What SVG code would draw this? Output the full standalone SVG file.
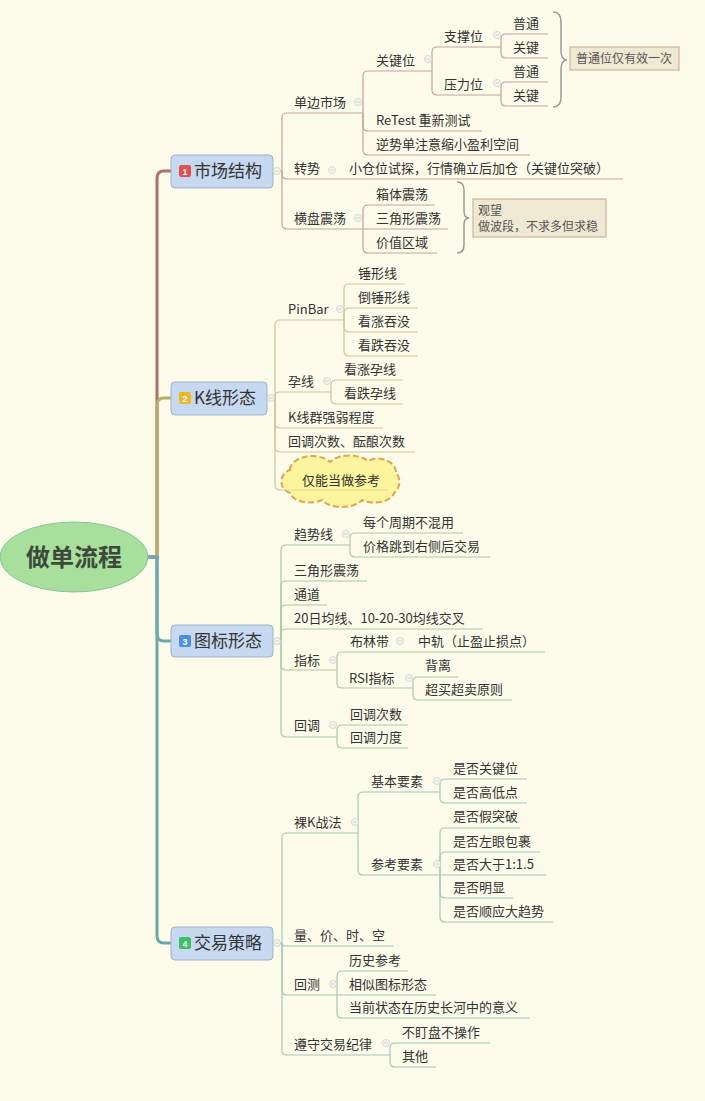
<svg xmlns="http://www.w3.org/2000/svg" width="705" height="1101" viewBox="0 0 705 1101">
<style>
.t{font-family:"Noto Sans CJK SC","Noto Sans",sans-serif;font-size:13px;fill:#333}
.s{font-family:"Noto Sans CJK SC","Noto Sans",sans-serif;font-size:12px;fill:#555}
.m{font-family:"Noto Sans CJK SC","Noto Sans",sans-serif;font-size:17px;fill:#333}
.c1{stroke:#c8a09b;fill:none;stroke-width:1.2}
.c2{stroke:#cbc79c;fill:none;stroke-width:1.2}
.c3{stroke:#abcaa2;fill:none;stroke-width:1.2}
.c4{stroke:#a2c8b8;fill:none;stroke-width:1.2}
.box{fill:#c7d9f0;stroke:#9fb1c9;stroke-width:1}
.bd{font-family:"Liberation Sans",sans-serif;font-size:9px;font-weight:bold;fill:#fff;text-anchor:middle}
.sum{fill:#efe9d3;stroke:#caa58c;stroke-width:1}
.brace{fill:none;stroke:#9a9a9a;stroke-width:1.5}
.col circle{fill:#f6f6ee;stroke:#cfcfcf;stroke-width:0.8}
.col path{stroke:#c8c8c8;stroke-width:0.8}
</style>
<rect width="705" height="1101" fill="#fdfcea"/>
<g id="trunk" fill="none" stroke-width="3">
<path d="M148,557H157V178Q157,171 164,171H171" stroke="#b46b6b"/>
<path d="M148,557H157V405Q157,398 164,398H171" stroke="#b6ae66"/>
<path d="M148,557H157V936Q157,943 164,943H171" stroke="#6aa8a6"/>
<path d="M148,557H157V634Q157,641 164,641H171" stroke="#6aa9ab"/>
</g>
<g id="connectors">
<g class="c1">
<path d="M273,171H282"/>
<path d="M282,171V118Q282,113 287,113H363"/>
<path d="M282,171V174Q282,179 287,179H623"/>
<path d="M282,171V224Q282,229 287,229H363"/>
<path d="M363,113V76Q363,71 368,71H432"/>
<path d="M363,113V126Q363,131 368,131H482"/>
<path d="M363,113V150Q363,155 368,155H530"/>
<path d="M432,71V52Q432,47 437,47H501"/>
<path d="M432,71V90Q432,95 437,95H501"/>
<path d="M501,47V39Q501,34 506,34H548"/>
<path d="M501,47V53Q501,58 506,58H548"/>
<path d="M501,95V87Q501,82 506,82H548"/>
<path d="M501,95V101Q501,106 506,106H548"/>
<path d="M363,229V210Q363,205 368,205H435"/>
<path d="M363,229H448"/>
<path d="M363,229V248Q363,253 368,253H437"/>
</g>
<g class="c2">
<path d="M267,398H275"/>
<path d="M275,398V325Q275,320 280,320H344"/>
<path d="M275,398V397Q275,392 280,392H331"/>
<path d="M275,398V423Q275,428 280,428H383"/>
<path d="M275,398V447Q275,452 280,452H415"/>
<path d="M275,398V485Q275,490 280,490H388"/>
<path d="M344,320V289Q344,284 349,284H405"/>
<path d="M344,320V313Q344,308 349,308H418"/>
<path d="M344,320V327Q344,332 349,332H418"/>
<path d="M344,320V351Q344,356 349,356H418"/>
<path d="M331,392V385Q331,380 336,380H403"/>
<path d="M331,392V399Q331,404 336,404H403"/>
</g>
<g class="c3">
<path d="M273,641H281"/>
<path d="M281,641V550Q281,545 286,545H350"/>
<path d="M281,641V586Q281,581 286,581H367"/>
<path d="M281,641V610Q281,605 286,605H327"/>
<path d="M281,641V634Q281,629 286,629H483"/>
<path d="M281,641V665Q281,670 286,670H337"/>
<path d="M281,641V732Q281,737 286,737H337"/>
<path d="M350,545V538Q350,533 355,533H463"/>
<path d="M350,545V552Q350,557 355,557H490"/>
<path d="M337,670V657Q337,652 342,652H545"/>
<path d="M337,670V683Q337,688 342,688H413"/>
<path d="M413,688V682Q413,677 418,677H458"/>
<path d="M413,688V695Q413,700 418,700H512"/>
<path d="M337,737V730Q337,725 342,725H408"/>
<path d="M337,737V743Q337,748 342,748H408"/>
</g>
<g class="c4">
<path d="M273,943H282"/>
<path d="M282,943V838Q282,833 287,833H358"/>
<path d="M282,943Q282,946 285,946H394"/>
<path d="M282,943V990Q282,995 287,995H337"/>
<path d="M282,943V1050Q282,1055 287,1055H390"/>
<path d="M358,833V797Q358,792 363,792H440"/>
<path d="M358,833V870Q358,875 363,875H440"/>
<path d="M440,792V784Q440,779 445,779H527"/>
<path d="M440,792V798Q440,803 445,803H527"/>
<path d="M440,875V833Q440,828 445,828H520"/>
<path d="M440,875V857Q440,852 445,852H540"/>
<path d="M440,875H546"/>
<path d="M440,875V893Q440,898 445,898H513"/>
<path d="M440,875V917Q440,922 445,922H553"/>
<path d="M337,995V976Q337,971 342,971H408"/>
<path d="M337,995H436"/>
<path d="M337,995V1013Q337,1018 342,1018H530"/>
<path d="M390,1055V1048Q390,1043 395,1043H490"/>
<path d="M390,1055V1062Q390,1067 395,1067H436"/>
</g>
</g>
<g id="root">
<ellipse cx="74" cy="557" rx="74" ry="35" fill="#a9df9c" stroke="#86c4a0" stroke-width="1"/>
<text x="74" y="566" text-anchor="middle" font-family="Noto Sans CJK SC, Noto Sans, sans-serif" font-size="24" font-weight="bold" fill="#3b4a3b">做单流程</text>
</g>
<g id="n1">
<rect class="box" x="171" y="155" width="102" height="33" rx="4"/>
<rect x="179" y="165" width="12" height="12" rx="2" fill="#e05252"/>
<text class="bd" x="185" y="174.5">1</text>
<text class="m" x="194" y="177">市场结构</text>
</g>
<g id="n2">
<rect class="box" x="171" y="382" width="96" height="33" rx="4"/>
<rect x="179" y="392" width="12" height="12" rx="2" fill="#f0b52a"/>
<text class="bd" x="185" y="401.5">2</text>
<text class="m" x="194" y="404">K线形态</text>
</g>
<g id="n3">
<rect class="box" x="171" y="625" width="102" height="32" rx="4"/>
<rect x="179" y="635" width="12" height="12" rx="2" fill="#4a8fe0"/>
<text class="bd" x="185" y="644.5">3</text>
<text class="m" x="194" y="647">图标形态</text>
</g>
<g id="n4">
<rect class="box" x="171" y="927" width="102" height="33" rx="4"/>
<rect x="179" y="937" width="12" height="12" rx="2" fill="#37c161"/>
<text class="bd" x="185" y="946.5">4</text>
<text class="m" x="194" y="949">交易策略</text>
</g>
<g id="b1-topics">
<text class="t" x="294" y="107">单边市场</text>
<text class="t" x="294" y="173">转势</text>
<text class="t" x="349" y="173">小仓位试探，行情确立后加仓（关键位突破）</text>
<text class="t" x="294" y="223">横盘震荡</text>
<text class="t" x="376" y="65">关键位</text>
<text class="t" x="376" y="125">ReTest 重新测试</text>
<text class="t" x="376" y="149">逆势单注意缩小盈利空间</text>
<text class="t" x="444" y="41">支撑位</text>
<text class="t" x="444" y="89">压力位</text>
<text class="t" x="513" y="28">普通</text>
<text class="t" x="513" y="52">关键</text>
<text class="t" x="513" y="76">普通</text>
<text class="t" x="513" y="100">关键</text>
<text class="t" x="376" y="199">箱体震荡</text>
<text class="t" x="376" y="223">三角形震荡</text>
<text class="t" x="376" y="247">价值区域</text>
</g>
<g id="summary1">
<path class="brace" d="M553,12Q561,12 561,22V50Q561,60 567,60Q561,60 561,70V97Q561,107 553,107"/>
<rect class="sum" x="570" y="47" width="109" height="23"/>
<text class="s" x="576" y="63">普通位仅有效一次</text>
</g>
<g id="summary2">
<path class="brace" d="M457,182Q464,182 464,190V211Q464,218 469,218Q464,218 464,225V245Q464,253 457,253"/>
<rect class="sum" x="473" y="199" width="133" height="38"/>
<text class="s" x="478" y="215">观望</text>
<text class="s" x="478" y="231">做波段，不求多但求稳</text>
</g>
<g id="b2-topics">
<text class="t" x="288" y="314">PinBar</text>
<text class="t" x="288" y="386">孕线</text>
<text class="t" x="288" y="422">K线群强弱程度</text>
<text class="t" x="288" y="446">回调次数、酝酿次数</text>
<text class="t" x="358" y="278">锤形线</text>
<text class="t" x="358" y="302">倒锤形线</text>
<text class="t" x="358" y="326">看涨吞没</text>
<text class="t" x="358" y="350">看跌吞没</text>
<text class="t" x="344" y="374">看涨孕线</text>
<text class="t" x="344" y="398">看跌孕线</text>
</g>
<g id="cloud">
<path d="M290,470A22,14 0 0 1 330,462A22,12 0 0 1 368,461A18,14 0 0 1 396,473A12,13 0 0 1 394,493A20,12 0 0 1 362,500A22,12 0 0 1 322,500A20,12 0 0 1 290,493A12,12 0 0 1 290,470Z" fill="#fdf59e" stroke="#e2a552" stroke-width="2" stroke-dasharray="6,3"/>
<line x1="284" y1="490" x2="388" y2="490" stroke="#cbc79c" stroke-width="1" opacity="0.6"/>
<text class="t" x="302" y="485">仅能当做参考</text>
</g>
<g id="b3-topics">
<text class="t" x="294" y="539">趋势线</text>
<text class="t" x="294" y="575">三角形震荡</text>
<text class="t" x="294" y="599">通道</text>
<text class="t" x="294" y="623">20日均线、10-20-30均线交叉</text>
<text class="t" x="294" y="665">指标</text>
<text class="t" x="294" y="730">回调</text>
<text class="t" x="363" y="527">每个周期不混用</text>
<text class="t" x="363" y="551">价格跳到右侧后交易</text>
<text class="t" x="350" y="646">布林带</text>
<text class="t" x="418" y="646">中轨（止盈止损点）</text>
<text class="t" x="349" y="683">RSI指标</text>
<text class="t" x="425" y="670">背离</text>
<text class="t" x="425" y="694">超买超卖原则</text>
<text class="t" x="350" y="719">回调次数</text>
<text class="t" x="350" y="742">回调力度</text>
</g>
<g id="b4-topics">
<text class="t" x="294" y="827">裸K战法</text>
<text class="t" x="294" y="940">量、价、时、空</text>
<text class="t" x="294" y="989">回测</text>
<text class="t" x="294" y="1049">遵守交易纪律</text>
<text class="t" x="371" y="786">基本要素</text>
<text class="t" x="371" y="869">参考要素</text>
<text class="t" x="453" y="773">是否关键位</text>
<text class="t" x="453" y="797">是否高低点</text>
<text class="t" x="453" y="821">是否假突破</text>
<text class="t" x="453" y="846">是否左眼包裹</text>
<text class="t" x="453" y="869">是否大于1:1.5</text>
<text class="t" x="453" y="892">是否明显</text>
<text class="t" x="453" y="916">是否顺应大趋势</text>
<text class="t" x="349" y="965">历史参考</text>
<text class="t" x="349" y="989">相似图标形态</text>
<text class="t" x="349" y="1012">当前状态在历史长河中的意义</text>
<text class="t" x="402" y="1037">不盯盘不操作</text>
<text class="t" x="402" y="1061">其他</text>
</g>
<g id="collapse" class="col">
<circle cx="277" cy="171" r="3.5"/><path d="M275,171H279"/>
<circle cx="358" cy="102" r="3.5"/><path d="M356,102H360"/>
<circle cx="332" cy="170" r="3.5"/><path d="M330,170H334"/>
<circle cx="358" cy="218" r="3.5"/><path d="M356,218H360"/>
<circle cx="428" cy="59" r="3.5"/><path d="M426,59H430"/>
<circle cx="497" cy="35" r="3.5"/><path d="M495,35H499"/>
<circle cx="497" cy="83" r="3.5"/><path d="M495,83H499"/>
<circle cx="271" cy="398" r="3.5"/><path d="M269,398H273"/>
<circle cx="340" cy="309" r="3.5"/><path d="M338,309H342"/>
<circle cx="327" cy="381" r="3.5"/><path d="M325,381H329"/>
<circle cx="277" cy="641" r="3.5"/><path d="M275,641H279"/>
<circle cx="346" cy="534" r="3.5"/><path d="M344,534H348"/>
<circle cx="333" cy="660" r="3.5"/><path d="M331,660H335"/>
<circle cx="400" cy="641" r="3.5"/><path d="M398,641H402"/>
<circle cx="409" cy="678" r="3.5"/><path d="M407,678H411"/>
<circle cx="333" cy="725" r="3.5"/><path d="M331,725H335"/>
<circle cx="277" cy="943" r="3.5"/><path d="M275,943H279"/>
<circle cx="355" cy="822" r="3.5"/><path d="M353,822H357"/>
<circle cx="437" cy="781" r="3.5"/><path d="M435,781H439"/>
<circle cx="437" cy="864" r="3.5"/><path d="M435,864H439"/>
<circle cx="333" cy="984" r="3.5"/><path d="M331,984H335"/>
<circle cx="386" cy="1043" r="3.5"/><path d="M384,1043H388"/>
</g>
</svg>
